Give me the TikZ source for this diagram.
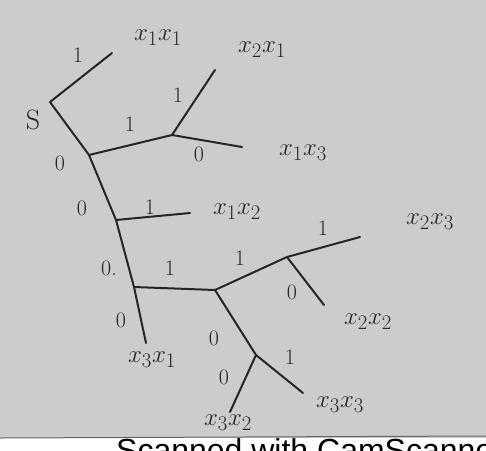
\documentclass[tikz,border=0pt]{standalone}
\usepackage{fontspec}
\newfontfamily\wmfont{Liberation Sans}
\begin{document}
\begin{tikzpicture}[x=1pt,y=-1pt,
  edge/.style={line width=2pt,line cap=round,line join=round,color=black!85},
  lab/.style={font=\fontsize{22}{24}\selectfont,inner sep=0pt,color=black!85},
  leaf/.style={font=\fontsize{28}{30}\selectfont,inner sep=0pt,color=black!85}]
\useasboundingbox (0,0) rectangle (486,450);
\fill[black!20] (0,0) rectangle (486,438);
\fill[white] (0,438) rectangle (486,450);
\draw[black!60,line width=1pt] (0,438) -- (486,436);
\begin{scope}
\clip (0,438) rectangle (486,450);
\node[anchor=north west,inner sep=0pt,font=\wmfont\fontsize{32}{34}\selectfont] (wm) at (116,438) {Scanned with CamScanner};
\end{scope}
% tree points
\coordinate (s) at (50,102);
\coordinate (a) at (89,155);
\coordinate (b) at (172,135);
\coordinate (c) at (116,220);
\coordinate (d) at (134,287);
\coordinate (e) at (215,290);
\coordinate (f) at (287,257);
\coordinate (g) at (256,355);
\coordinate (l1) at (112,53);
\coordinate (l2) at (215,70);
\coordinate (l3) at (242,147);
\coordinate (l4) at (190,213);
\coordinate (l5) at (360,237);
\coordinate (l6) at (324,305);
\coordinate (l7) at (146,343);
\coordinate (l8) at (230,412);
\coordinate (l9) at (303,393);
% edges
\draw[edge] (l1) -- (s) -- (a) -- (c) -- (d) -- (l7);
\draw[edge] (a) -- (b) -- (l2);
\draw[edge] (b) -- (l3);
\draw[edge] (c) -- (l4);
\draw[edge] (d) -- (e) -- (f) -- (l5);
\draw[edge] (f) -- (l6);
\draw[edge] (e) -- (g) -- (l8);
\draw[edge] (g) -- (l9);
% labels
\node[leaf] (S) at (33,120) {S};
\node[leaf] (x11) at (158,38) {$x_1x_1$};
\node[leaf] (x21) at (262,50) {$x_2x_1$};
\node[leaf] (x13) at (303,153) {$x_1x_3$};
\node[leaf] (x12) at (237,212) {$x_1x_2$};
\node[leaf] (x23) at (430,222) {$x_2x_3$};
\node[leaf] (x22) at (368,322) {$x_2x_2$};
\node[leaf] (x31) at (152,360) {$x_3x_1$};
\node[leaf] (x32) at (228,423) {$x_3x_2$};
\node[leaf] (x33) at (340,405) {$x_3x_3$};
% edge labels
\node[lab] (e1) at (78,55) {1};
\node[lab] (e2) at (130,124) {1};
\node[lab] (e3) at (178,95) {1};
\node[lab] (e4) at (199,154) {0};
\node[lab] (e5) at (60,163) {0};
\node[lab] (e6) at (82,208) {0};
\node[lab] (e7) at (150,207) {1};
\node[lab] (e8) at (109,268) {0.};
\node[lab] (e9) at (170,268) {1};
\node[lab] (e10) at (240,258) {1};
\node[lab] (e11) at (323,228) {1};
\node[lab] (e12) at (292,292) {0};
\node[lab] (e13) at (121,320) {0};
\node[lab] (e14) at (214,338) {0};
\node[lab] (e15) at (224,377) {0};
\node[lab] (e16) at (290,357) {1};
\end{tikzpicture}
\end{document}
